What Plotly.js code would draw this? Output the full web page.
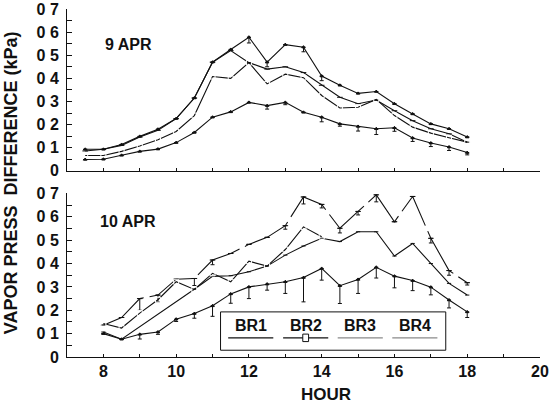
<!DOCTYPE html>
<html>
<head>
<meta charset="utf-8">
<script src="https://cdn.plot.ly/plotly-3.0.1.min.js"></script>
<style>html,body{margin:0;padding:0;background:#fff;}#chart{width:550px;height:406px;}</style>
</head>
<body>
<div id="chart"></div>
<script>
// ---- Data: 9 APR (top panel) ----
const hoursTop = [7.5,8,8.5,9,9.5,10,10.5,11,11.5,12,12.5,13,13.5,14,14.5,15,15.5,16,16.5,17,17.5,18];
const br1Top = [0.093,0.093,0.114,0.149,0.18,0.226,0.315,0.47,0.525,0.578,0.47,0.546,0.535,0.41,0.37,0.335,0.343,0.29,0.246,0.203,0.182,0.146];
const br3Top = [0.086,0.093,0.11,0.146,0.175,0.226,0.315,0.47,0.52,0.468,0.44,0.45,0.425,0.37,0.318,0.29,0.306,0.26,0.217,0.182,0.16,0.124];
const br2Top = [0.066,0.066,0.084,0.107,0.134,0.17,0.239,0.408,0.40,0.468,0.376,0.418,0.403,0.326,0.272,0.275,0.309,0.239,0.189,0.163,0.143,0.124];
const br4Top = [0.049,0.05,0.067,0.084,0.094,0.122,0.166,0.232,0.255,0.296,0.282,0.296,0.253,0.232,0.203,0.192,0.182,0.186,0.142,0.12,0.103,0.079];
const br1TopErr = [0,0,0,0,0,0,0,0,0,0.025,0.02,0,0.02,0.02,0,0,0,0,0,0,0,0];
const br4TopErr = [0,0,0,0,0,0,0,0,0,0,0.015,0.01,0,0.02,0.01,0.02,0.025,0.015,0.015,0.015,0.015,0.01];

// ---- Data: 10 APR (bottom panel) ----
const hoursBot = [8,8.5,9,9.5,10,10.5,11,11.5,12,12.5,13,13.5,14,14.5,15,15.5,16,16.5,17,17.5,18];
const br1Bot = [0.136,0.169,0.25,0.265,0.333,0.336,0.415,0.443,0.482,0.512,0.562,0.685,0.653,0.551,0.623,0.694,0.579,0.687,0.508,0.37,0.318];
const br3Bot = [0.107,0.076,null,null,null,0.29,0.345,0.348,0.365,0.389,0.436,0.475,0.508,0.494,0.536,0.536,0.432,0.486,0.40,0.315,0.265];
const br2Bot = [0.143,0.124,0.188,0.245,0.322,0.289,0.358,0.322,0.41,0.389,0.46,0.557,0.515,null,null,null,null,null,null,null,null];
const br4Bot = [0.10,0.076,0.097,0.107,0.162,0.186,0.219,0.27,0.30,0.312,0.322,0.34,0.379,0.305,0.332,0.384,0.346,0.327,0.299,0.244,0.193];
const br1BotErr = [0,0,0.05,0.03,0,0.03,0.02,0,0,0,0.015,0.03,0.015,0.02,0.015,0.03,0,0,0.02,0.02,0.01];
const br4BotErr = [0,0,0.02,0.01,0.01,0.02,0.045,0.04,0.05,0.026,0.05,0.104,0.05,0.076,0.06,0.046,0.05,0.043,0.033,0.034,0.024];

// ---- Axis tick labels ----
const yTickVals = [0,0.1,0.2,0.3,0.4,0.5,0.6,0.7];
const yTickText = ['0','0 1','0 2','0 3','0 4','0 5','0 6','0 7'];
const xTickVals = [8,10,12,14,16,18,20];
const xTickText = ['8','10','12','14','16','18','20'];
const seriesNames = ['BR1','BR2','BR3','BR4'];
const panelLabels = ['9 APR','10 APR'];

const FONT = 'Liberation Sans, Arial, Helvetica, sans-serif';
const INK = '#111';

function errBars(arr){
  return {type:'data', symmetric:false, array: arr.map(()=>0), arrayminus: arr,
          thickness:1, width:2, color:INK};
}
function tr(x, y, xa, ya, name, marker, extra){
  return Object.assign({
    type:'scatter', mode:'lines+markers', x:x, y:y, xaxis:xa, yaxis:ya, name:name,
    showlegend:false, connectgaps:true,
    line:{color:INK, width:1.1},
    marker:Object.assign({color:INK, size:4, line:{color:INK, width:1}}, marker)
  }, extra||{});
}

const data = [
  tr(hoursTop, br1Top, 'x', 'y', seriesNames[0], {symbol:'triangle-up', size:3}, {error_y:errBars(br1TopErr)}),
  tr(hoursTop, br3Top, 'x', 'y', seriesNames[2], {symbol:'line-ew-open', size:4}),
  tr(hoursTop, br2Top, 'x', 'y', seriesNames[1], {symbol:'square-open', size:5, color:'#fff'}),
  tr(hoursTop, br4Top, 'x', 'y', seriesNames[3], {symbol:'triangle-up', size:3}, {error_y:errBars(br4TopErr)}),

  tr(hoursBot, br1Bot, 'x2', 'y2', seriesNames[0], {symbol:'line-ew-open', size:4}, {line:{color:INK, width:1.1, dash:'50px,6px'}, error_y:errBars(br1BotErr)}),
  tr(hoursBot, br3Bot, 'x2', 'y2', seriesNames[2], {symbol:'line-ew-open', size:3}),
  tr(hoursBot, br2Bot, 'x2', 'y2', seriesNames[1], {symbol:'square-open', size:5, color:'#fff'}),
  tr(hoursBot, br4Bot, 'x2', 'y2', seriesNames[3], {symbol:'triangle-up', size:3}, {error_y:errBars(br4BotErr)})
];

const tickFont = {family:FONT, size:16, color:INK, weight:'bold'};
function xax(showLabels, anchor){
  return {
    range:[7,20], domain:[0,1], anchor:anchor, showgrid:false, zeroline:false,
    showline:true, linecolor:INK, linewidth:1,
    tickmode:'array', tickvals:xTickVals, ticktext:xTickText, showticklabels:showLabels,
    ticks:'inside', ticklen:3, tickcolor:INK, tickwidth:1,
    minor:{dtick:1, ticks:'inside', ticklen:3, tickcolor:INK},
    tickfont:tickFont, fixedrange:true
  };
}
function yax(domain, anchor){
  return {
    range:[0,0.7], domain:domain, anchor:anchor, showgrid:false, zeroline:false,
    showline:true, linecolor:INK, linewidth:1,
    tickmode:'array', tickvals:yTickVals, ticktext:yTickText,
    ticks:'inside', ticklen:5, tickcolor:INK, tickwidth:1,
    minor:{dtick:0.05, ticks:'inside', ticklen:5, tickcolor:INK},
    ticklabelstandoff:4,
    tickfont:tickFont, fixedrange:true
  };
}

// legend decoration inside the lower panel (x2/y2 coordinates)
const legX = [12.05, 13.56, 15.06, 16.56];
const legHalf = 0.62;
const legColors = [INK, INK, '#8a8a8a', '#8a8a8a'];
const shapes = [
  {type:'rect', xref:'x2', yref:'y2', x0:11.22, x1:17.41, y0:0.029, y1:0.193, line:{color:INK, width:1}, fillcolor:'#fff', layer:'above'}
];
legX.forEach((cx,i)=>{
  shapes.push({type:'line', xref:'x2', yref:'y2', x0:cx-legHalf, x1:cx+legHalf, y0:0.082, y1:0.082, line:{color:legColors[i], width:1.2}, layer:'above'});
});
shapes.push({type:'rect', xref:'x2', yref:'y2', x0:legX[1]-0.08, x1:legX[1]+0.08, y0:0.066, y1:0.098, line:{color:INK, width:1}, fillcolor:'#fff', layer:'above'});

const annotations = [
  {text:panelLabels[0], xref:'x', yref:'y', x:8.68, y:0.548, showarrow:false, xanchor:'center', yanchor:'middle', font:{family:FONT, size:16, color:INK, weight:'bold'}},
  {text:panelLabels[1], xref:'x2', yref:'y2', x:8.69, y:0.579, showarrow:false, xanchor:'center', yanchor:'middle', font:{family:FONT, size:16, color:INK, weight:'bold'}},
  {text:'HOUR', xref:'paper', yref:'paper', x:0.5476, y:-0.109, showarrow:false, xanchor:'center', yanchor:'middle', font:{family:FONT, size:17, color:INK, weight:'bold'}},
  {text:'VAPOR PRESS  DIFFERENCE (kPa)', xref:'paper', yref:'paper', x:-0.118, y:0.5, textangle:-90, showarrow:false, xanchor:'center', yanchor:'middle', font:{family:FONT, size:18, color:INK, weight:'bold'}}
];
legX.forEach((cx,i)=>{
  annotations.push({text:seriesNames[i], xref:'x2', yref:'y2', x:cx, y:0.135, showarrow:false, xanchor:'center', yanchor:'middle', font:{family:FONT, size:16, color:INK, weight:'bold'}});
});

const layout = {
  width:550, height:406,
  margin:{l:67, r:10, t:9, b:49, pad:0},
  paper_bgcolor:'#fff', plot_bgcolor:'#fff',
  showlegend:false,
  xaxis: xax(false, 'y'),
  yaxis: yax([0.535,1], 'x'),
  xaxis2: xax(true, 'y2'),
  yaxis2: yax([0,0.47], 'x2'),
  shapes:shapes,
  annotations:annotations
};

Plotly.newPlot('chart', data, layout, {staticPlot:true, displayModeBar:false});
</script>
</body>
</html>
